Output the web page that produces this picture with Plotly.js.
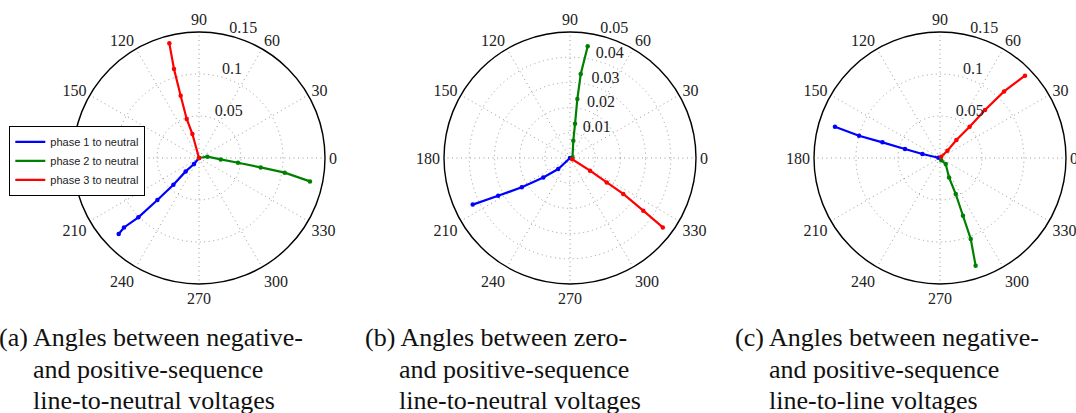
<!DOCTYPE html>
<html><head><meta charset="utf-8">
<script src="https://cdn.plot.ly/plotly-3.0.1.min.js"></script>
<style>html,body{margin:0;padding:0;background:#fff}#c{width:1076px;height:413px}</style>
</head><body><div id="c"></div>
<script>
// (a) negative vs positive sequence, line-to-neutral
const aBlueR  = [0, 0.0093, 0.0225, 0.044, 0.0704, 0.101, 0.1217, 0.1316];
const aBlueT  = [225, 230.2, 225.2, 226.2, 225.3, 224.4, 222.8, 223.4];
const aGreenR = [0, 0.0101, 0.0259, 0.0468, 0.0743, 0.1035, 0.135];
const aGreenT = [20, 8.8, 356.3, 353.1, 351.3, 350.3, 348.1];
const aRedR   = [0, 0.0296, 0.0487, 0.0773, 0.110, 0.141];
const aRedT   = [105, 105.4, 107.5, 106.4, 105.7, 104.5];
// (b) zero vs positive sequence, line-to-neutral
const bBlueR  = [0, 0.0064, 0.0131, 0.0224, 0.0322, 0.0428];
const bBlueT  = [225, 223, 216, 211.3, 207.7, 205.6];
const bGreenR = [0.001, 0.0070, 0.0137, 0.0236, 0.0336, 0.0449];
const bGreenT = [10, 79.2, 81.6, 82.9, 82.7, 81];
const bRedR   = [0.001, 0.0094, 0.0175, 0.0255, 0.0358, 0.046];
const bRedT   = [330, 327.6, 326.4, 326, 324.3, 323.2];
// (c) negative vs positive sequence, line-to-line
const cBlueR  = [0.002, 0.0215, 0.043, 0.071, 0.100, 0.1305];
const cBlueT  = [170, 167.2, 165.6, 164.8, 164.6, 163.4];
const cGreenR = [0.003, 0.0099, 0.0255, 0.0468, 0.074, 0.103, 0.135];
const cGreenT = [300, 313.5, 294.9, 293.6, 291.7, 290.8, 288.3];
const cRedR   = [0.002, 0.0124, 0.029, 0.0513, 0.0783, 0.110, 0.1409];
const cRedT   = [45, 44.6, 47.7, 46.5, 46.8, 46.1, 44.1];

const seriesNames = ['phase 1 to neutral', 'phase 2 to neutral', 'phase 3 to neutral'];
const seriesColors = ['#0000ff', '#008000', '#ff0000'];
const angleTicks = [0,30,60,90,120,150,180,210,240,270,300,330];
const radialTicksA = [0.05, 0.1, 0.15];
const radialTicksB = [0.01, 0.02, 0.03, 0.04, 0.05];
const radialTicksC = [0.05, 0.1, 0.15];
const captions = [
  ['(a) Angles between negative-', 'and positive-sequence', 'line-to-neutral voltages'],
  ['(b) Angles between zero-', 'and positive-sequence', 'line-to-neutral voltages'],
  ['(c) Angles between negative-', 'and positive-sequence', 'line-to-line voltages']
];

const panels = [
  {sub:'polar',  data:[[aBlueR,aBlueT],[aGreenR,aGreenT],[aRedR,aRedT]], legend:true},
  {sub:'polar2', data:[[bBlueR,bBlueT],[bGreenR,bGreenT],[bRedR,bRedT]], legend:false},
  {sub:'polar3', data:[[cBlueR,cBlueT],[cGreenR,cGreenT],[cRedR,cRedT]], legend:false}
];
const traces = [];
panels.forEach(p => {
  p.data.forEach((d, i) => {
    traces.push({
      type:'scatterpolar', mode:'lines', subplot:p.sub,
      r:d[0], theta:d[1], name:seriesNames[i], showlegend:p.legend, legendgroup:'g'+i,
      line:{color:seriesColors[i], width:2.2}
    });
    traces.push({
      type:'scatterpolar', mode:'markers', subplot:p.sub,
      r:d[0], theta:d[1], name:seriesNames[i], showlegend:false, legendgroup:'g'+i,
      marker:{color:seriesColors[i], size:4.5}
    });
  });
});

const W = 1076, H = 413;
function polarCfg(cx, ticks) {
  const R = 126, cy = 158;
  return {
    domain:{x:[(cx-R)/W, (cx+R)/W], y:[1-(cy+R)/H, 1-(cy-R)/H]},
    bgcolor:'rgba(0,0,0,0)',
    angularaxis:{
      tickmode:'array', tickvals:angleTicks, ticktext:angleTicks.map(String),
      ticks:'', showline:true, linecolor:'#000', linewidth:1.4,
      gridcolor:'#999', griddash:'1px,3.5px', gridwidth:1,
      tickfont:{family:'Liberation Serif', size:16, color:'#222'}, rotation:0, direction:'counterclockwise'
    },
    radialaxis:{
      range:[0, ticks[ticks.length-1]], tickmode:'array', tickvals:ticks,
      ticktext:ticks.map(t => String(t) + '\u00a0\u00a0\u00a0\u00a0\u00a0\u00a0<br>\u00a0'),
      angle:80, tickangle:80, showline:false, ticks:'', gridcolor:'#999', griddash:'1px,3.5px', gridwidth:1,
      tickfont:{family:'Liberation Serif', size:16, color:'#222'}
    }
  };
}

const annotations = [];
const capX = [[-3, 31], [363, 397], [733, 767]];
const capY = [337, 369, 400];
captions.forEach((c, k) => {
  c.forEach((line, j) => {
    annotations.push({
      xref:'paper', yref:'paper', x:(j===0?capX[k][0]:capX[k][1])/W, y:1-capY[j]/H,
      xanchor:'left', yanchor:'middle', showarrow:false, text:line,
      font:{family:'Liberation Serif', size:26, color:'#111'}
    });
  });
});

const layout = {
  width:W, height:H, margin:{l:0,r:0,t:0,b:0},
  paper_bgcolor:'#fff', plot_bgcolor:'#fff',
  polar:polarCfg(199, radialTicksA),
  polar2:polarCfg(570, radialTicksB),
  polar3:polarCfg(940, radialTicksC),
  showlegend:true,
  legend:{x:9/W, y:1-126/H, xanchor:'left', yanchor:'top', bgcolor:'#fff', bordercolor:'#000', borderwidth:1.3,
          font:{family:'Liberation Sans', size:11, color:'#222'}, tracegroupgap:0, itemwidth:30},
  annotations:annotations
};
Plotly.newPlot('c', traces, layout, {displayModeBar:false, staticPlot:true});
</script>
</body></html>
